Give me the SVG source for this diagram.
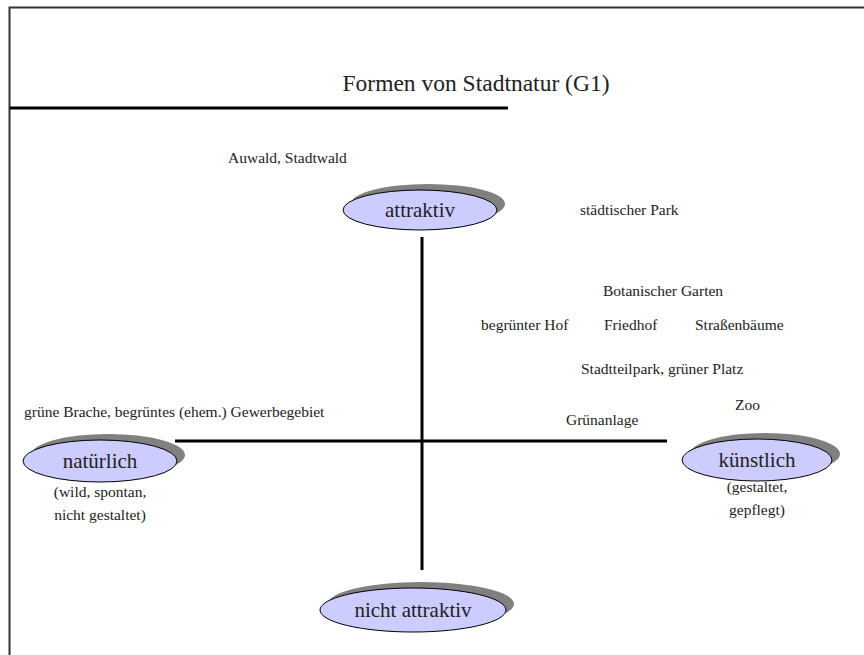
<svg xmlns="http://www.w3.org/2000/svg" width="864" height="655" viewBox="0 0 864 655">
<defs>
<style>
text{font-family:'Liberation Serif','DejaVu Serif',serif;fill:#222}
.s{font-size:15.5px}
.n{font-size:21px}
.t{font-size:23.5px}
.sh{fill:#808080}
.el{fill:#ccccff;stroke:#000;stroke-width:1}
.ax{stroke:#000;stroke-width:3}
</style>
</defs>
<rect width="864" height="655" fill="#fff"/>
<path d="M9.5 655 V7.5 H864" fill="none" stroke="#333" stroke-width="2"/>
<g font-family="Liberation Serif, serif">
<text class="t" x="476" y="91" text-anchor="middle">Formen von Stadtnatur (G1)</text>
<line x1="10" y1="108" x2="508" y2="108" stroke="#000" stroke-width="3"/>
<g id="connectors">
<line class="ax" x1="422" y1="237" x2="422" y2="570"/>
<line class="ax" x1="175" y1="441" x2="667" y2="441"/>
</g>
<g id="attraktiv">
<ellipse class="sh" cx="428" cy="204" rx="77" ry="20"/>
<ellipse class="el" cx="420" cy="210" rx="77" ry="20"/>
<text class="n" x="420" y="217" text-anchor="middle">attraktiv</text>
</g>
<g id="natuerlich">
<ellipse class="sh" cx="108" cy="455" rx="77" ry="21"/>
<ellipse class="el" cx="100" cy="461" rx="77" ry="21"/>
<text class="n" x="100" y="468" text-anchor="middle">natürlich</text>
<text class="s" x="100" y="497" text-anchor="middle">(wild, spontan,</text>
<text class="s" x="100" y="520" text-anchor="middle">nicht gestaltet)</text>
</g>
<g id="kuenstlich">
<ellipse class="sh" cx="765" cy="454" rx="75" ry="21"/>
<ellipse class="el" cx="757" cy="460" rx="75" ry="21"/>
<text class="n" x="757" y="467" text-anchor="middle">künstlich</text>
<text class="s" x="757" y="492" text-anchor="middle">(gestaltet,</text>
<text class="s" x="757" y="515" text-anchor="middle">gepflegt)</text>
</g>
<g id="nicht-attraktiv">
<ellipse class="sh" cx="421" cy="604" rx="93" ry="22"/>
<ellipse class="el" cx="413" cy="610" rx="93" ry="22"/>
<text class="n" x="413" y="617" text-anchor="middle">nicht attraktiv</text>
</g>
<g id="labels">
<text class="s" x="228" y="163">Auwald, Stadtwald</text>
<text class="s" x="580" y="215">städtischer Park</text>
<text class="s" x="603" y="296">Botanischer Garten</text>
<text class="s" x="481" y="330">begrünter Hof</text>
<text class="s" x="604" y="330">Friedhof</text>
<text class="s" x="695" y="330">Straßenbäume</text>
<text class="s" x="581" y="374">Stadtteilpark, grüner Platz</text>
<text class="s" x="735" y="410">Zoo</text>
<text class="s" x="566" y="425">Grünanlage</text>
<text class="s" x="24" y="417">grüne Brache, begrüntes (ehem.) Gewerbegebiet</text>
</g>
</g>
</svg>
